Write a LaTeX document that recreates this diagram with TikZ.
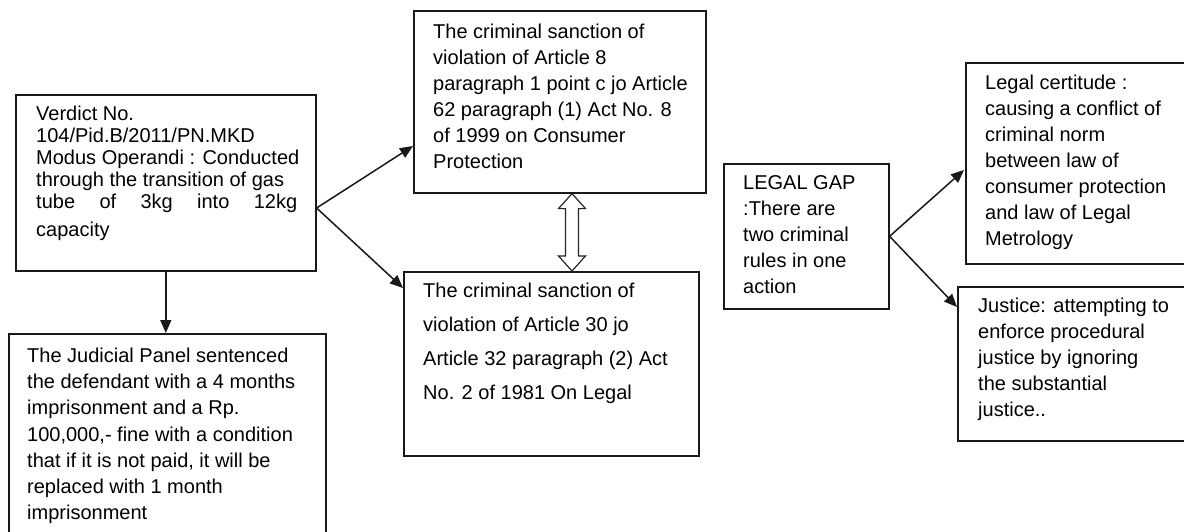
\documentclass[tikz,border=0pt]{standalone}
\usepackage{fontspec}
\setmainfont{Liberation Sans}
\usetikzlibrary{calc,arrows.meta}
\begin{document}
\begin{tikzpicture}[x=1pt,y=-1pt,
  box/.style={draw=black!90, line width=1.6pt, rectangle, inner sep=0pt, anchor=north west},
  txt/.style={align=left, anchor=north west, inner sep=0pt, text=black},
  fs26/.style={font={\fontsize{20}{26}\selectfont}},
  conn/.style={draw=black!90, line width=1.5pt, -{Triangle[length=13pt,width=11pt]}},
  dbl/.style={draw=black!85, line width=1.2pt, fill=white, line join=miter}]
\clip (0,0) rectangle (1184,531);
\fill[white] (0,0) rectangle (1184,531);

% boxes
\node[box, minimum width=300pt, minimum height=176pt] (a) at (15,94) {};
\node[box, minimum width=317pt, minimum height=220pt] (b) at (8,333) {};
\node[box, minimum width=292pt, minimum height=182pt] (c) at (413,10) {};
\node[box, minimum width=295pt, minimum height=184pt] (d) at (403,271) {};
\node[box, minimum width=165pt, minimum height=145pt] (e) at (723,163) {};
\node[box, minimum width=240pt, minimum height=201pt] (f) at (965,62) {};
\node[box, minimum width=245pt, minimum height=154pt] (g) at (957,286) {};

% texts
\node[txt, font={\fontsize{20}{22}\selectfont}] (ta) at (36,105.4) {Verdict No.\\ 104/Pid.B/2011/PN.MKD\\ Modus Operandi : Conducted\\ through the transition of gas\\ \makebox[261pt][s]{tube of 3kg into 12kg}\\[6pt] capacity};
\node[txt, font={\fontsize{20}{26.3}\selectfont}] (tb) at (27,347.4) {The Judicial Panel sentenced\\ the defendant with a 4 months\\ imprisonment and a Rp.\\ 100,000,- fine with a condition\\ that if it is not paid, it will be\\ replaced with 1 month\\ imprisonment};
\node[txt, fs26] (tc) at (433,23.4) {The criminal sanction of\\ violation of Article 8\\ paragraph 1 point c jo Article\\ 62 paragraph (1) Act No. 8\\ of 1999 on Consumer\\ Protection};
\node[txt, font={\fontsize{20}{34}\selectfont}] (td) at (423,282.4) {The criminal sanction of\\ violation of Article 30 jo\\ Article 32 paragraph (2) Act\\ No. 2 of 1981 On Legal};
\node[txt, fs26] (te) at (743,175.4) {LEGAL GAP\\ :There are\\ two criminal\\ rules in one\\ action};
\node[txt, fs26] (tf) at (985,74.4) {Legal certitude :\\ causing a conflict of\\ criminal norm\\ between law of\\ consumer protection\\ and law of Legal\\ Metrology};
\node[txt, fs26] (tg) at (978,297.4) {Justice: attempting to\\ enforce procedural\\ justice by ignoring\\ the substantial\\ justice..};

% connector points
\coordinate (aj) at ($(a.north east)+(0,114)$);
\coordinate (cin) at ($(c.north west)+(0,136)$);
\coordinate (din) at ($(d.north west)+(0,17)$);
\coordinate (fin) at ($(f.north west)+(-1,108)$);
\coordinate (gin) at ($(g.north west)+(0,21)$);

% connectors
\draw[conn] (aj) -- (cin);
\draw[conn] (aj) -- (din);
\draw[conn] (a.south) -- (a.south |- b.north);
\draw[conn] (e.east) -- (fin);
\draw[conn] (e.east) -- (gin);

% hollow double arrow between c and d
\coordinate (dt) at ($(c.south west)+(159,0)$);
\coordinate (db) at ($(d.north west)+(169,0)$);
\draw[dbl] (dt) -- ($(dt)+(-13.5,15)$) -- ($(dt)+(-6.5,15)$) -- ($(db)+(-6.5,-15)$) -- ($(db)+(-13.5,-15)$) -- (db)
  -- ($(db)+(13.5,-15)$) -- ($(db)+(6.5,-15)$) -- ($(dt)+(6.5,15)$) -- ($(dt)+(13.5,15)$) -- cycle;
\end{tikzpicture}
\end{document}
